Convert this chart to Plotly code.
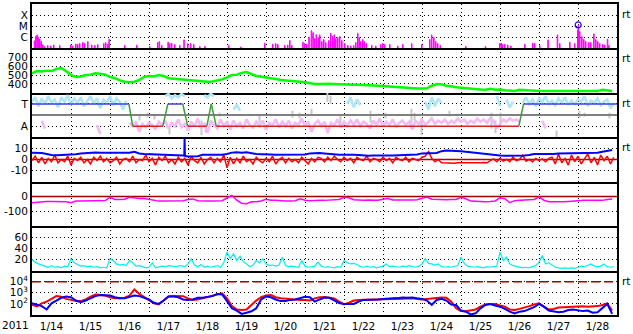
import plotly.graph_objects as go
from plotly.subplots import make_subplots
import pandas as pd

FONT = "DejaVu Sans, Verdana, sans-serif"
FSIZE = 10.5
BASE = pd.Timestamp("2011-01-14 00:00:00")
END_H = 360

# ---------------- data (hours from 2011-01-14 00:00 UT) ----------------
day_labels_year = "2011"

# Panel 1: X-ray flux peaks (hour, log10 W/m2)
xray_hours = [1.35, 2.15, 2.95, 3.7, 4.6, 5.5, 6.5, 7.7, 9.5, 11.4,
              13.2, 16.9, 23.7, 24.9, 26.8, 28.0, 29.2, 31.1, 32.3, 34.2,
              36.6, 38.5, 40.3, 44.0, 45.2, 46.5, 47.3, 56.9, 64.3, 72.3,
              77.2, 78.2, 79.7, 83.6, 84.6, 85.8, 87.7, 90.8, 93.4, 95.7,
              97.5, 99.4, 103.1, 106.2, 120.9, 128.3, 143.1, 148.0, 149.8, 151.1,
              155.4, 157.2, 158.5, 159.7, 166.6, 167.7, 168.9, 170.3, 171.8, 172.8,
              173.8, 174.8, 176.0, 176.9, 178.2, 179.4, 180.6, 182.5, 183.7, 184.9,
              185.8, 186.8, 188.0, 189.2, 190.5, 192.3, 194.2, 196.0, 197.8, 199.1,
              200.3, 201.2, 202.2, 203.4, 204.3, 205.5, 208.9, 211.4, 214.5, 215.7,
              216.9, 220.0, 224.9, 228.0, 233.5, 239.7, 244.6, 245.8, 247.1, 248.3,
              249.5, 251.1, 266.8, 278.9, 287.7, 288.6, 289.5, 290.8, 292.6, 294.5,
              303.1, 308.0, 309.2, 312.3, 317.4, 323.2, 324.6, 330.8, 333.8, 335.7,
              336.1, 336.9, 338.2, 339.4, 340.6, 342.5, 343.7, 345.6, 346.8, 348.0,
              349.2, 351.1, 352.3, 354.0, 354.8]
xray_log = [-6.32, -5.93, -5.78, -5.98, -6.17, -6.38, -6.67, -6.82, -6.73, -6.78,
            -6.69, -6.73, -6.69, -6.78, -6.6, -6.64, -6.56, -6.47, -6.56, -6.38,
            -6.69, -6.73, -6.64, -6.56, -6.47, -6.6, -6.17, -6.73, -6.71, -6.82,
            -6.47, -6.38, -6.73, -6.44, -6.56, -6.53, -6.64, -6.73, -6.23, -6.58,
            -6.56, -6.64, -6.82, -6.82, -6.73, -6.87, -6.53, -6.62, -6.56, -6.64,
            -6.73, -6.69, -6.29, -6.73, -6.44, -6.56, -6.64, -6.0, -5.4, -5.58,
            -6.11, -5.76, -6.02, -5.78, -6.38, -6.2, -6.47, -6.29, -5.64, -5.93,
            -5.78, -6.11, -6.02, -5.93, -6.29, -6.56, -6.73, -6.78, -6.73, -6.47,
            -5.64, -6.02, -6.38, -6.2, -6.38, -6.56, -6.73, -6.78, -6.64, -6.56,
            -6.64, -6.64, -6.78, -6.64, -6.56, -6.64, -6.2, -5.78, -6.02, -6.38,
            -6.56, -6.73, -6.82, -6.82, -6.56, -6.53, -6.64, -6.62, -6.69, -6.78,
            -6.62, -6.53, -6.56, -6.73, -6.23, -5.78, -6.56, -6.44, -6.56, -5.34,
            -4.88, -5.49, -5.93, -6.2, -6.38, -6.47, -6.47, -5.69, -6.2, -6.38,
            -6.56, -6.64, -6.69, -6.17, -6.73]
xray_floor_log = -7.6
flare_hours = [336.1]
flare_flux = [1.3e-5]

# Panel 2: solar wind speed, 3-hourly
speed_vals = [520, 545, 540, 550, 545, 570, 580, 545, 500, 480,
              485, 500, 505, 520, 515, 505, 480, 465, 440, 425,
              420, 425, 445, 480, 490, 485, 500, 490, 465, 460,
              455, 445, 440, 433, 430, 426, 425, 428, 440, 452,
              475, 500, 505, 525, 535, 515, 490, 482, 475, 465,
              455, 445, 438, 433, 430, 425, 420, 410, 400, 400,
              405, 402, 400, 400, 398, 395, 392, 390, 385, 385,
              383, 380, 375, 370, 368, 362, 355, 352, 350, 348,
              348, 352, 380, 400, 395, 380, 375, 362, 358, 352,
              342, 340, 338, 335, 345, 335, 338, 330, 325, 322,
              335, 330, 325, 322, 320, 322, 322, 328, 328, 330,
              328, 325, 325, 322, 322, 320, 322, 335, 325, 322]

# Panel 3: IMF direction (T = 1, A = -1), 2-hourly segments
phi_blue_start = [0, 82, 106, 124, 194, 242, 286, 292, 302]
phi_blue_vals = [
    [1.2, 1.6, 0.8, 1.5, 1.0, 1.7, 1.1, 1.4, 0.7, 1.6, 1.2, 1.8, 0.9, 1.5, 1.1,
     1.6, 0.8, 1.3, 1.7, 1.0, 1.5, 0.6, 1.4, 1.1, 1.7, 0.9, 1.5, 1.2, 0.5, 1.3],
    [1.7, 1.9, 1.5, 1.8, 1.6, 1.9, 1.7],
    [1.8, 1.6, 1.9, 1.7],
    [0.5, 0.9, 0.4],
    [1.0, 1.6, 0.7, 1.4, 0.9],
    [1.2, 0.5, 1.6, 0.8, 1.5, 1.1],
    [1.7, 0.8],
    [1.4, 0.7, 1.2],
    [1.1, 1.6, 1.0, 1.4, 0.8, 1.5, 1.2, 1.7, 1.0, 1.3, 0.9, 1.5, 1.1, 1.6, 0.9,
     1.3, 1.0, 1.4, 1.2, 1.7, 0.8, 1.3, 1.1, 1.5, 0.9, 1.2, 1.4, 0.6, 1.1],
]
phi_pink_start = [6, 40, 60, 314]
phi_pink_vals = [
    [-0.5, -1.2],
    [-0.9, -1.7],
    [-0.7, -1.0, -0.6, -1.5, -0.8, -1.1, -0.7, -0.9, -1.3, -0.6,
     -0.9, -0.5, -1.2, -0.7, -1.0, -0.4, -1.1, -0.8, -1.4, -0.6,
     -1.0, -0.3, -1.2, -0.7, -1.6, -0.5, -0.9, -1.2, -0.4, -1.0,
     -0.6, -1.3, -0.5, -1.0, -0.7, -1.2, -0.4, -0.9, -1.1, -0.6,
     -1.0, -0.5, -1.3, -0.7, -0.9, -0.4, -1.1, -0.6, -1.0, -0.5,
     -1.2, -0.7, -0.9, -0.3, -1.0, -0.6, -1.5, -0.8, -0.5, -1.0,
     -0.6, -1.6, -0.7, -0.9, -0.4, -1.1, -0.6, -1.0, -0.5, -0.9,
     -0.4, -1.0, -0.6, -0.8, -1.2, -0.5, -0.9, -0.3, -1.0, -0.6,
     -0.9, -0.4, -1.1, -0.7, -0.5, -0.9, -0.6, -1.3, -0.5, -0.8,
     -0.4, -0.9, -0.6, -0.3, -0.8, -0.5, -0.7, -0.4, -0.8, -0.5,
     -0.7, -0.3, -0.6, -0.4, -0.8, -0.5, -0.7, -0.3, -0.6, -0.4,
     -0.7, -0.3, -0.5, -1.2, -0.8, -0.4, -0.6, -0.3, -0.5, -0.4, -0.6],
    [-0.5, -1.2],
]
gray_h = [66.2, 71.1, 75.4, 84.6, 104.3, 106.8, 115.4, 140.0, 160.3, 164.6,
          172.0, 181.8, 183.7, 189.8, 208.3, 217.5, 233.5, 235.4, 239.7, 256.9,
          282.8, 285.2, 288.3, 322.8, 336.9, 340.0, 355.4]
gray_lo = [-0.49, -0.22, -0.4, -1.73, -1.82, -1.56, -0.13, -0.67, -0.22, -0.31,
           -0.04, 1.2, 1.02, -0.93, -0.67, -0.31, -0.93, -0.49, -1.82, -0.13,
           -1.2, -1.64, -0.93, -2.0, -0.22, -0.13, -0.31]
gray_hi = [0.13, 0.22, 0.04, -1.2, -0.49, -1.02, 0.22, -0.04, 0.4, 0.22,
           0.58, 2.0, 1.73, 0.13, 0.4, 0.22, 0.58, 0.22, -0.31, 0.4,
           0.22, -0.49, 0.22, -1.38, 0.4, 0.22, 0.22]
sector_hours = [0, 59.6, 62.0, 80.5, 83.6, 92.8, 95.8, 107.6, 110.3, 113.4, 299.6, 302.5, 360]
sector_state = [1, 1, -1, -1, 1, 1, -1, -1, 1, -1, -1, 1, 1]

# Panel 4: Bt (3-hourly) and Bz (2-hourly), nT
bt_vals = [6, 6.2, 5.8, 5, 4, 3.8, 4, 3.8, 4.2, 4.8,
           5.5, 5.8, 6, 6.2, 6, 6, 5.6, 5.5, 5.5, 5.6,
           6, 7, 5.5, 5, 4.8, 4.5, 4.3, 4.3, 4.5, 4.3,
           4, 3.5, 2.8, 2.8, 3, 4.3, 4.3, 4.5, 4.3, 4.3,
           5, 6.2, 6.5, 6, 6.5, 5.5, 5, 4.8, 4.9, 4.5,
           4.3, 4.3, 4.5, 4.3, 4.2, 4.3, 4.5, 5.5, 5.8, 5.8,
           5.5, 5, 4.3, 4.2, 4.3, 4.5, 4.3, 4, 3.5, 3.4,
           3.5, 3.3, 3.4, 3.5, 3.6, 3.8, 4.3, 4.5, 4.3, 4.5,
           5.5, 5.8, 6, 5.8, 7.5, 8, 7.8, 7.8, 7.5, 7,
           6.5, 5.8, 5, 4.9, 4.6, 3.8, 3.5, 3.4, 3.3, 3.4,
           3.5, 3.5, 4, 4.9, 5, 4.9, 4.8, 5, 5.5, 5.5,
           5.6, 5.5, 5.5, 5.6, 5.5, 5.8, 6, 7, 7.5, 8.5]
bt_spike_hours = [93.7, 93.9, 94.1]
bt_spike_vals = [3.5, 19, 3.5]
bz_vals = [-1, 3, -3, 2, -4, 1, -2, 4, -3, 0,
           -2, 3, -5, 1, -1, 2, -3, 0, -4, 2,
           -1, 3, -2, 1, -3, -1, 2, -4, 0, 1,
           -2, 3, -3, 0, -1, 4, -2, 1, -5, 2,
           -1, 3, -3, 0, -4, 2, -2, 1, -5, 3,
           -1, -3, 2, -4, 0, 2, -3, 1, -2, 4,
           -7.5, 2, -4, 1, -3, 3, -2, 0, -4, 2,
           -1, -3, 1, -2, 3, -4, 0, 2, -3, 1,
           -2, 0, -3, 2, -1, -4, 1, -2, 2,
           1, -2, 2, -1, 3, 0, -2, 2, -1, 1,
           -3, 2, 0, -1, 3, -2, 1, 0, -2, 2,
           -1, 1, -3, 2, 0, -1, 2, -2, 1, 0,
           -1, 2, 3, 7, 1, -2, 0,
           -3, -3.2, -2.8, -3, -3.3, -2.9, -3, -3.1, -2.8, -3, -3.2, -2.9, -3, -2.7, -3,
           -1, 0.5, -2, 1, -1.5, 0, -2, 2, -1, 0, 4, -1.5, 0, -2, 1, -1, 0.5, -2, 1,
           2, -4, 5, -3, 1, -5, 4, -2, 3, -4, 0, 5, -3, 2, -5, 4, -1, 3, -4, 2]

# Panel 5: Dst-like index, 3-hourly, nT
dst_vals = [-42, -38, -38, -33, -33, -32, -33, -35, -42, -31,
            -31, -30, -31, -30, -27, -27, -5, -20, -20, -18,
            -5, -10, -13, -13, -20, -27, -31, -31, -31, -30,
            -31, -28, -20, -16, -28, -31, -31, -30, -31, -28,
            -10, 8, -25, -45, -49, -35, -35, -30, -18, -25,
            -25, -30, -31, -31, -28, -15, -25, -28, -25, -25,
            -26, -25, -24, -20, -5, -8, -22, -25, -25, -24,
            -25, -25, -18, -14, -24, -25, -25, -26, -24, -22,
            -10, -3, -18, -20, -20, -21, -20, -20, -5, -15,
            -31, -34, -35, -35, -34, -30, -8, -15, -42, -28,
            -25, -25, -24, -20, -3, -25, -35, -36, -35, -35,
            -33, -33, -28, -25, -25, -24, -25, -26, -20, -16]

# Panel 6: cyan index, 2-hourly
cyan_vals = [20, 15, 12, 10, 7, 6, 9, 6, 7, 5,
             8, 7, 21, 14, 11, 8, 9, 7, 8, 6,
             7, 5, 6, 5, 21, 18, 12, 10, 11, 9,
             18, 14, 8, 9, 7, 5, 6, 14, 5, 6,
             8, 7, 9, 8, 7, 8, 9, 7, 12, 21,
             10, 7, 11, 6, 8, 6, 7, 9, 6, 14,
             33, 22, 30, 18, 26, 16, 12, 7, 10, 18,
             14, 21, 12, 9, 10, 8, 10, 24, 9, 7,
             8, 7, 6, 18, 8, 6, 7, 8, 15, 8,
             6, 7, 6, 5, 7, 6, 18, 14, 12, 13,
             11, 7, 6, 8, 6, 7, 5, 6, 8, 12,
             7, 8, 7, 6, 8, 7, 9, 7, 6, 8,
             12, 21, 13, 12, 10, 12, 7, 6, 7, 6,
             7, 9, 24, 13, 8, 7, 6, 7, 6, 5,
             7, 6, 7, 8, 33, 18, 24, 12, 9, 8,
             6, 5, 6, 5, 7, 9, 15, 27, 12, 14,
             10, 6, 5, 4, 5, 4, 5, 4, 6, 8,
             7, 9, 12, 8, 7, 8, 12, 7, 6, 7]

# Panel 7: particle flux (log10), 3-hourly
p7_red_log = [1.92, 1.77, 2.05, 2.2, 2.45, 2.7, 2.65, 2.45, 2.36, 2.25,
              2.25, 2.4, 2.65, 2.85, 2.8, 2.75, 2.6, 2.5, 2.5, 2.55,
              2.75, 3.3, 2.9, 2.6, 2.3, 2.05, 1.95, 2.3, 2.66, 2.72,
              2.72, 2.7, 2.5, 2.36, 2.4, 2.5, 2.6, 2.75, 2.85, 2.95,
              2.5, 1.8, 1.5, 1.45, 1.5, 1.9, 2.3, 2.6, 2.75, 2.8,
              2.6, 2.5, 2.45, 2.4, 2.36, 2.35, 2.36, 2.3, 2.5, 2.6,
              2.62, 2.55, 2.5, 2.2, 1.95, 2.1, 2.3, 2.36, 2.38, 2.4,
              2.36, 2.38, 2.4, 2.42, 2.45, 2.45, 2.48, 2.5, 2.5, 2.45,
              2.4, 2.45, 2.5, 2.52, 2.57, 2.55, 2.2, 1.6, 1.35, 1.33,
              1.4, 1.5, 1.75, 1.95, 2.0, 2.0, 1.85, 1.75, 1.5, 1.45,
              1.55, 1.65, 1.8, 1.95, 2.05, 1.75, 1.5, 1.55, 1.68, 1.7,
              1.72, 1.75, 1.78, 1.78, 1.75, 1.78, 1.8, 1.9, 2.05, 1.4]
p7_blue_log = [2.07, 1.92, 1.8, 1.5, 2.05, 2.3, 2.55, 2.66, 2.6, 2.3,
               2.16, 2.3, 2.5, 2.7, 2.8, 2.78, 2.75, 2.6, 2.5, 2.5,
               2.6, 2.75, 2.7, 2.55, 2.4, 2.1, 2.0, 2.3, 2.66, 2.66,
               2.6, 2.4, 2.36, 2.4, 2.55, 2.55, 2.6, 2.7, 2.9, 2.85,
               2.25, 1.6, 1.4, 1.1, 1.2, 1.33, 1.6, 2.4, 2.66, 2.6,
               2.4, 2.25, 2.25, 2.36, 2.4, 2.55, 2.65, 2.6, 2.2, 2.4,
               2.57, 2.55, 2.3, 2.07, 2.0, 1.98, 2.0, 2.2, 2.36, 2.38,
               2.36, 2.4, 2.45, 2.45, 2.5, 2.52, 2.57, 2.55, 2.57, 2.5,
               2.45, 2.3, 1.92, 2.35, 2.45, 2.3, 1.95, 1.9, 1.4, 1.3,
               1.05, 1.15, 1.6, 1.9, 1.98, 1.85, 1.75, 1.55, 1.3, 1.15,
               1.3, 1.35, 1.5, 1.7, 2.0, 1.75, 1.4, 1.3, 1.25, 1.3,
               1.45, 1.5, 1.45, 1.35, 1.4, 1.2, 1.25, 1.6, 2.0, 1.1]
p7_threshold = 1e4


# ---------------- helpers ----------------
def ts(h):
    return None if h is None else (BASE + pd.Timedelta(hours=h)).strftime("%Y-%m-%d %H:%M:%S")


def grid(step, n):
    return [ts(step * i) for i in range(n)]


def seg_xy(starts, vals, step=2):
    xs, ys = [], []
    for s, vv in zip(starts, vals):
        for j, v in enumerate(vv):
            xs.append(ts(s + step * j))
            ys.append(v)
        xs.append(None)
        ys.append(None)
    return xs, ys


fig = make_subplots(rows=7, cols=1, shared_xaxes=True, vertical_spacing=0)

# Panel 1
xr_x, xr_y = [ts(0)], [10 ** xray_floor_log]
for h, v in zip(xray_hours, xray_log):
    xr_x += [ts(h), ts(h + 0.35)]
    xr_y += [10 ** v, 10 ** xray_floor_log]
fig.add_trace(go.Scatter(x=xr_x, y=xr_y, mode="lines", line=dict(color="#ff00ff", width=1, shape="hv")), row=1, col=1)
fig.add_trace(go.Scatter(x=[ts(h) for h in flare_hours], y=flare_flux, mode="markers",
                         marker=dict(symbol="circle-open", size=6, color="#0000ff", line=dict(width=1.2))), row=1, col=1)

# Panel 2
fig.add_trace(go.Scatter(x=grid(3, len(speed_vals)), y=speed_vals, mode="lines",
                         line=dict(color="#00ff00", width=2.5)), row=2, col=1)

# Panel 3
gx, gy = [], []
for h, lo, hi in zip(gray_h, gray_lo, gray_hi):
    gx += [ts(h), ts(h), None]
    gy += [lo, hi, None]
fig.add_trace(go.Scatter(x=gx, y=gy, mode="lines", line=dict(color="#c8c8c8", width=2)), row=3, col=1)
px_, py_ = seg_xy(phi_pink_start, phi_pink_vals)
fig.add_trace(go.Scatter(x=px_, y=py_, mode="lines", line=dict(color="#f6b8f6", width=2.6)), row=3, col=1)
bx_, by_ = seg_xy(phi_blue_start, phi_blue_vals)
fig.add_trace(go.Scatter(x=bx_, y=by_, mode="lines", line=dict(color="#aee6f8", width=2.6)), row=3, col=1)
fig.add_trace(go.Scatter(x=[ts(0), ts(END_H)], y=[0, 0], mode="lines", line=dict(color="#808080", width=2)), row=3, col=1)
sec = {"b": ([], []), "r": ([], []), "g": ([], [])}
for i in range(len(sector_hours) - 1):
    a, b = sector_state[i], sector_state[i + 1]
    key = "b" if a == b == 1 else ("r" if a == b == -1 else "g")
    sec[key][0].extend([ts(sector_hours[i]), ts(sector_hours[i + 1]), None])
    sec[key][1].extend([a, b, None])
for key, col in [("r", "#dd2020"), ("b", "#3c3cf0"), ("g", "#3f9a3f")]:
    fig.add_trace(go.Scatter(x=sec[key][0], y=sec[key][1], mode="lines", line=dict(color=col, width=1.5)), row=3, col=1)

# Panel 4
fig.add_trace(go.Scatter(x=[ts(0), ts(END_H)], y=[0, 0], mode="lines", line=dict(color="#b00000", width=1.5)), row=4, col=1)
fig.add_trace(go.Scatter(x=grid(2, len(bz_vals)), y=bz_vals, mode="lines", line=dict(color="#ff0000", width=1.5)), row=4, col=1)
fig.add_trace(go.Scatter(x=grid(3, len(bt_vals)), y=bt_vals, mode="lines", line=dict(color="#0000ff", width=2)), row=4, col=1)
fig.add_trace(go.Scatter(x=[ts(h) for h in bt_spike_hours], y=bt_spike_vals, mode="lines", line=dict(color="#0000ff", width=2)), row=4, col=1)

# Panel 5
fig.add_trace(go.Scatter(x=[ts(0), ts(END_H)], y=[0, 0], mode="lines", line=dict(color="#a00000", width=1.5)), row=5, col=1)
fig.add_trace(go.Scatter(x=grid(3, len(dst_vals)), y=dst_vals, mode="lines", line=dict(color="#ff00ff", width=1.5)), row=5, col=1)

# Panel 6
fig.add_trace(go.Scatter(x=grid(2, len(cyan_vals)), y=cyan_vals, mode="lines", line=dict(color="#00f0f0", width=1.2)), row=6, col=1)

# Panel 7
fig.add_trace(go.Scatter(x=[ts(0), ts(END_H)], y=[p7_threshold, p7_threshold], mode="lines",
                         line=dict(color="#a00000", width=1.5, dash="9px,4px")), row=7, col=1)
fig.add_trace(go.Scatter(x=grid(3, len(p7_red_log)), y=[10 ** v for v in p7_red_log], mode="lines",
                         line=dict(color="#ff0000", width=2)), row=7, col=1)
fig.add_trace(go.Scatter(x=grid(3, len(p7_blue_log)), y=[10 ** v for v in p7_blue_log], mode="lines",
                         line=dict(color="#0000ff", width=2)), row=7, col=1)

# ---------------- axes ----------------
tickfont = dict(family=FONT, size=FSIZE, color="black")
fig.update_xaxes(type="date", range=[ts(0), ts(END_H)], showline=True, mirror=False, linecolor="black",
                 linewidth=2, showgrid=True, gridcolor="black", gridwidth=1, griddash="1px,3px",
                 tick0=ts(0), dtick=86400000, ticks="", showticklabels=False, zeroline=False)
fig.update_xaxes(row=1, col=1, mirror=True)
fig.update_xaxes(row=7, col=1, showticklabels=True, ticklabelmode="period", tickformat="%-m/%d", tickfont=tickfont)

common_y = dict(showline=True, mirror=True, linecolor="black", linewidth=2, showgrid=True, gridcolor="black",
                gridwidth=1, griddash="1px,3px", zeroline=False, ticks="", tickfont=tickfont, fixedrange=True)
fig.update_yaxes(row=1, col=1, type="log", range=[-7, -3], tickvals=[1e-6, 1e-5, 1e-4], ticktext=["C", "M", "X"], **common_y)
fig.update_yaxes(row=2, col=1, range=[300, 800], tickvals=[400, 500, 600, 700], ticktext=["400", "500", "600", "700"], **common_y)
fig.update_yaxes(row=3, col=1, range=[-2, 2], tickvals=[-1, 1], ticktext=["A", "T"], **common_y)
fig.update_yaxes(row=4, col=1, range=[-20, 20], tickvals=[-10, 0, 10], ticktext=["-10", "0", "10"], **common_y)
fig.update_yaxes(row=5, col=1, range=[-200, 100], tickvals=[-100, 0], ticktext=["-100", "0"], **common_y)
fig.update_yaxes(row=6, col=1, range=[0, 80], tickvals=[20, 40, 60], ticktext=["20", "40", "60"], **common_y)
fig.update_yaxes(row=7, col=1, type="log", range=[1, 5], tickvals=[1e2, 1e3, 1e4],
                 ticktext=["10<sup>2</sup>", "10<sup>3</sup>", "10<sup>4</sup>"], **common_y)

annotations = [dict(text=day_labels_year, xref="paper", yref="paper", x=0, y=0, xanchor="right", yanchor="top",
                    xshift=-1, yshift=-2, showarrow=False, font=tickfont)]
for k in [0, 1, 2, 3, 6]:
    annotations.append(dict(text="rt", xref="paper", yref="paper", x=1, y=1 - k / 7, xanchor="left", yanchor="top",
                            xshift=3, yshift=-2, showarrow=False, font=tickfont))

fig.update_layout(width=633, height=334, margin=dict(l=32, r=16, t=2, b=17), paper_bgcolor="white",
                  plot_bgcolor="white", showlegend=False, annotations=annotations,
                  font=dict(family=FONT, size=FSIZE, color="black"))

fig.write_html("out.html")
